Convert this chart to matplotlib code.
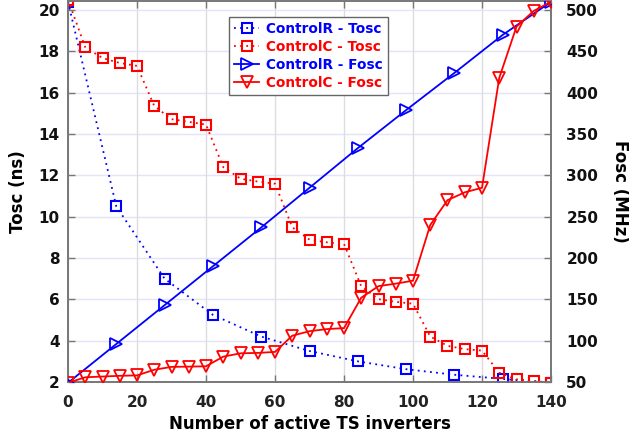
import matplotlib
matplotlib.use("Agg")
import matplotlib.pyplot as plt
from matplotlib.lines import Line2D

# ---- data ----
x_R = [0, 14, 28, 42, 56, 70, 84, 98, 112, 126, 140]
tosc_R = [20.4, 10.5, 7.0, 5.25, 4.2, 3.5, 3.0, 2.62, 2.35, 2.15, 1.95]
fosc_R = [49, 96, 143, 190, 237, 285, 333, 379, 424, 470, 510]

x_C = [0, 5, 10, 15, 20, 25, 30, 35, 40, 45, 50, 55, 60, 65, 70, 75, 80,
       85, 90, 95, 100, 105, 110, 115, 120, 125, 130, 135, 140]
tosc_C = [20.5, 18.2, 17.68, 17.44, 17.3, 15.36, 14.72, 14.59, 14.46, 12.40,
          11.84, 11.7, 11.6, 9.49, 8.89, 8.76, 8.68, 6.63, 6.01, 5.88, 5.79,
          4.2, 3.75, 3.59, 3.52, 2.45, 2.13, 2.06, 1.95]
fosc_C = [49, 55.7, 56.6, 57.5, 58, 64.8, 68.3, 68.6, 69.0, 80.7, 84.7, 85.2,
          86.4, 106, 111.5, 114, 115.2, 152, 166, 169, 172.6, 240, 270, 279.5,
          285, 418, 480, 499, 510]

labels = ["ControlR - Tosc", "ControlC - Tosc", "ControlR - Fosc", "ControlC - Fosc"]
x_ticks = [0, 20, 40, 60, 80, 100, 120, 140]
t_ticks = [2, 4, 6, 8, 10, 12, 14, 16, 18, 20]
f_ticks = [50, 100, 150, 200, 250, 300, 350, 400, 450, 500]

BLUE = "#0000ff"
RED = "#ff0000"
DOTS = (0, (1.0, 2.4))

plt.rcParams["font.family"] = ["DejaVu Sans"]
plt.rcParams["font.weight"] = "bold"

fig = plt.figure(figsize=(6.29, 4.40), dpi=100)
ax = fig.add_axes([68/629, 1 - 382/440, (551-68)/629, (382-1)/440])
ax2 = ax.twinx()

# grid
for t in t_ticks:
    ax.axhline(t, color="#e4e4f8", lw=1.0, zorder=0)
for xv in x_ticks:
    ax.axvline(xv, color="#dcdce4", lw=1.0, zorder=0)

ax.plot(x_R, tosc_R, ls=DOTS, color=BLUE, lw=1.3, marker="s", ms=6.5,
        mfc="none", mec=BLUE, mew=1.5, zorder=3)
ax.plot(x_C, tosc_C, ls=DOTS, color=RED, lw=1.3, marker="s", ms=6.5,
        mfc="none", mec=RED, mew=1.5, zorder=3)
ax2.plot(x_R, fosc_R, ls="-", color=BLUE, lw=1.3, marker=">", ms=9,
         mfc="none", mec=BLUE, mew=1.3, zorder=3)
ax2.plot(x_C, fosc_C, ls="-", color=RED, lw=1.3, marker="v", ms=9,
         mfc="none", mec=RED, mew=1.3, zorder=3)

ax.set_xlim(0, 140)
ax.set_ylim(2, 20.44)
ax2.set_ylim(50, 50 + (20.44 - 2) * 25)

ax.set_xticks(x_ticks)
ax.set_yticks(t_ticks)
ax2.set_yticks(f_ticks)

for a in (ax, ax2):
    for s in a.spines.values():
        s.set_color("#777777")
        s.set_linewidth(1.2)

ax.tick_params(axis="x", direction="in", labelsize=11, length=5, pad=9,
               color="#777777", top=True, width=1.0, labelcolor="#222222")
ax.tick_params(axis="y", direction="in", labelsize=11, length=5, pad=6,
               color="#777777", width=1.0, labelcolor="#111111")
ax2.tick_params(axis="y", direction="in", labelsize=11, length=5, pad=11,
                color="#777777", width=1.0, labelcolor="#111111")
for lab in ax.get_xticklabels() + ax.get_yticklabels() + ax2.get_yticklabels():
    lab.set_fontweight("bold")

ax.set_xlabel("Number of active TS inverters", fontsize=12, fontweight="bold", labelpad=4)
ax.set_ylabel("Tosc (ns)", fontsize=12, fontweight="bold", labelpad=8)
ax2.set_ylabel("Fosc (MHz)", fontsize=12, fontweight="bold", rotation=270, labelpad=22)

handles = [
    Line2D([], [], ls=DOTS, color=BLUE, lw=1.3, marker="s", ms=6.5, mfc="none", mew=1.5),
    Line2D([], [], ls=DOTS, color=RED, lw=1.3, marker="s", ms=6.5, mfc="none", mew=1.5),
    Line2D([], [], ls="-", color=BLUE, lw=1.3, marker=">", ms=9, mfc="none", mew=1.3),
    Line2D([], [], ls="-", color=RED, lw=1.3, marker="v", ms=9, mfc="none", mew=1.3),
]
leg = ax2.legend(handles, labels, loc="upper left",
                 bbox_to_anchor=(0.333, 0.958), fontsize=9.8, frameon=True,
                 fancybox=False, edgecolor="#666666", framealpha=1,
                 handlelength=1.9, handletextpad=0.5, borderpad=0.35,
                 labelspacing=0.3, borderaxespad=0.0)
leg.get_frame().set_linewidth(1.0)
for txt, c in zip(leg.get_texts(), [BLUE, RED, BLUE, RED]):
    txt.set_color(c)
    txt.set_fontweight("bold")

fig.savefig("out.png", dpi=100)
